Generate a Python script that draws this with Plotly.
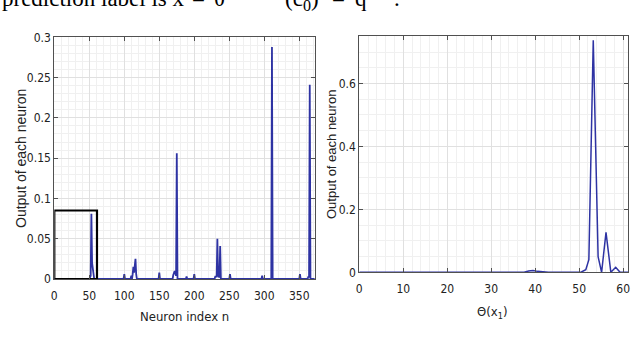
import plotly.graph_objects as go

# left panel: neuron index vs output (sparse spikes, zeros between)
neuron_n = [0, 50, 52, 53, 54, 55, 56, 57, 99, 100, 101, 109, 110, 111, 112, 113,
            114, 115, 116, 117, 118, 149, 150, 151, 169, 170, 172, 174, 175, 176,
            188, 189, 190, 199, 200, 201, 229, 230, 232, 233, 234, 236, 237, 238,
            250, 251, 252, 296, 297, 298, 310, 311, 312, 350, 351, 352, 362, 363,
            364, 365, 366, 372]
neuron_out = [0, 0, 0.004, 0.081, 0.02, 0.013, 0.004, 0, 0, 0.006, 0, 0, 0.004, 0,
              0.006, 0.015, 0.008, 0.018, 0.025, 0.006, 0, 0, 0.008, 0, 0, 0.005,
              0.01, 0.004, 0.156, 0, 0, 0.003, 0, 0, 0.006, 0, 0, 0.003, 0.003, 0.05,
              0.004, 0.002, 0.041, 0, 0, 0.006, 0, 0, 0.004, 0, 0, 0.288, 0, 0, 0.006,
              0, 0, 0.003, 0.002, 0.241, 0, 0]

# highlighted window on the left panel
box_x = [0, 61, 61, 0, 0]
box_y = [0, 0, 0.085, 0.085, 0]

# right panel: output vs theta(x1)
theta = [0, 37.5, 38.5, 39.5, 40.5, 41.5, 43, 49.5, 50.5, 51.5, 52.2, 53.2, 54.3,
         55.1, 56.1, 57.2, 58.3, 59.3, 61.1]
theta_out = [0, 0, 0.004, 0.006, 0.003, 0.001, 0, 0, 0.001, 0.008, 0.04, 0.737,
             0.05, 0, 0.127, 0, 0.016, 0, 0]

left_xticks = [0, 50, 100, 150, 200, 250, 300, 350]
left_yticks = [0, 0.05, 0.1, 0.15, 0.2, 0.25, 0.3]
left_ylabels = ['0', '0.05', '0.1', '0.15', '0.2', '0.25', '0.3']
right_xticks = [0, 10, 20, 30, 40, 50, 60]
right_yticks = [0, 0.2, 0.4, 0.6]
right_ylabels = ['0', '0.2', '0.4', '0.6']

# caption line cut by the top edge, split in pieces to mimic math spacing
caption_parts = ['prediction label is x', '=', 'θ', '(c<sub>0</sub>)', '=', 'q′', '.']
caption_px = [0, 190, 212, 283, 330, 353, 392]

W, H = 632, 358
NARROW = 'Liberation Sans Narrow, DejaVu Sans Condensed, Liberation Sans, Arial'
SANS = 'Liberation Sans, Arial, sans-serif'
SERIF = 'Liberation Serif, Times New Roman, serif'
BLUE = '#2e33a3'
FRAME = '#505050'

fig = go.Figure()
fig.add_trace(go.Scatter(x=neuron_n, y=neuron_out, mode='lines',
                         line=dict(color=BLUE, width=1.8), xaxis='x', yaxis='y'))
fig.add_trace(go.Scatter(x=box_x, y=box_y, mode='lines',
                         line=dict(color='black', width=2.2), xaxis='x', yaxis='y'))
fig.add_trace(go.Scatter(x=theta, y=theta_out, mode='lines',
                         line=dict(color=BLUE, width=1.5), xaxis='x2', yaxis='y2'))


def axis(domain, rng, tickvals, ticktext, minor, anchor, standoff=0):
    return dict(
        domain=domain, range=rng, anchor=anchor,
        tickmode='array', tickvals=tickvals, ticktext=ticktext,
        ticks='inside', ticklen=4, tickcolor=FRAME,
        showline=True, linecolor=FRAME, linewidth=1, mirror='ticks',
        showgrid=True, gridcolor='#e0e0e0', gridwidth=1, zeroline=False,
        minor=dict(dtick=minor, showgrid=True, gridcolor='#f0f0f0', ticks=''),
        tickfont=dict(family=NARROW, size=12, color='#222222'),
        ticklabelstandoff=standoff,
        fixedrange=True, automargin=False,
    )


fig.update_layout(
    width=W, height=H, margin=dict(l=0, r=0, t=0, b=0),
    template='none', showlegend=False,
    paper_bgcolor='white', plot_bgcolor='white',
    xaxis=axis([54.3 / W, 315 / W], [0, 372.5], left_xticks,
               [str(v) for v in left_xticks], 10, 'y', standoff=6),
    yaxis=axis([1 - 279 / H, 1 - 37.3 / H], [0, 0.3], left_yticks,
               left_ylabels, 0.01, 'x'),
    xaxis2=axis([359.3 / W, 628 / W], [0, 61.1], right_xticks,
                [str(v) for v in right_xticks], 2, 'y2', standoff=5),
    yaxis2=axis([1 - 272.3 / H, 1 - 36.3 / H], [0, 0.75], right_yticks,
                right_ylabels, 0.05, 'x2'),
)

annotations = [
    dict(text='Output of each neuron', textangle=-90, x=21 / W, y=1 - 159 / H,
         font=dict(family=SANS, size=14, color='#222222')),
    dict(text='Output of each neuron', textangle=-90, x=331 / W, y=1 - 155 / H,
         font=dict(family=SANS, size=13, color='#222222')),
    dict(text='Neuron index n', x=184 / W, y=1 - 316 / H,
         font=dict(family=NARROW, size=13, color='#222222')),
    dict(text='Θ(x<sub>1</sub>)', x=492 / W, y=1 - 312 / H,
         font=dict(family=NARROW, size=13, color='#222222')),
]
for a in annotations:
    a.update(xanchor='center', yanchor='middle')

for part, px in zip(caption_parts, caption_px):
    annotations.append(dict(text=part, x=px / W, y=1 + 16 / H,
                            xanchor='left', yanchor='top',
                            font=dict(family=SERIF, size=23, color='black')))
# superscript of theta, almost entirely above the top edge
annotations.append(dict(text='−1', x=231 / W, y=1 + 3 / H, xanchor='left',
                        yanchor='bottom',
                        font=dict(family=SERIF, size=16, color='black')))

for a in annotations:
    a.update(xref='paper', yref='paper', showarrow=False)
fig.update_layout(annotations=annotations)

fig.write_html("out.html", config={'displayModeBar': False},
               post_script="document.body.style.margin='0';")
